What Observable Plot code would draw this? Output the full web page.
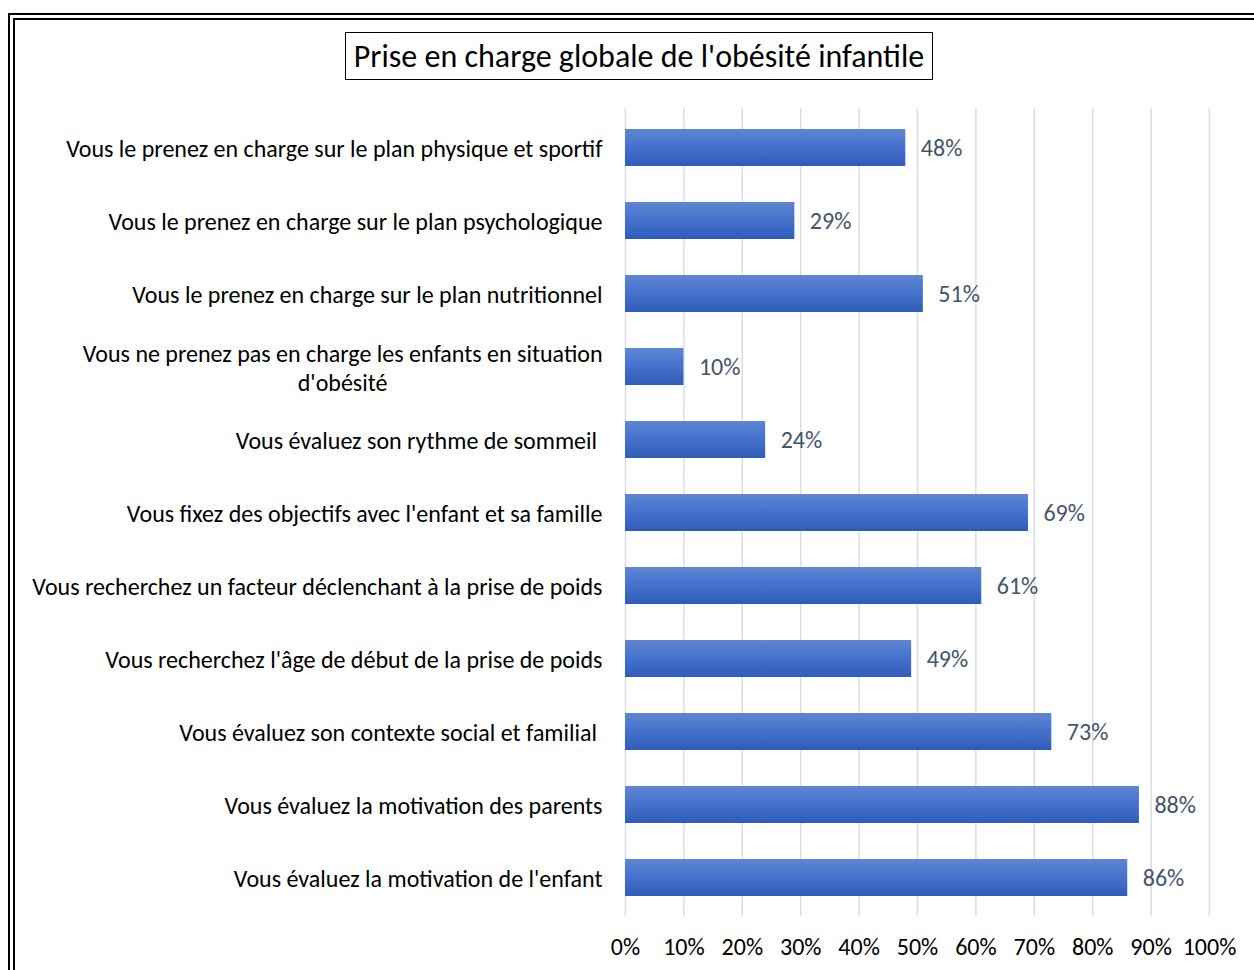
<!DOCTYPE html>
<html>
<head>
<meta charset="utf-8">
<script src="https://cdn.jsdelivr.net/npm/d3@7"></script>
<script src="https://cdn.jsdelivr.net/npm/@observablehq/plot@0.6"></script>
<style>
  html, body { margin: 0; padding: 0; background: #fff; overflow: hidden; width: 1254px; height: 970px; }
  body { position: relative; font-family: Carlito, Lato, "Open Sans", sans-serif; }
  .frame { position: absolute; border: 2px solid #000; width: 3000px; height: 3000px; box-sizing: border-box; }
  #head { position: relative; height: 90px; }
  #title { position: absolute; left: 345px; top: 32px; width: 588px; height: 48px; box-sizing: border-box;
    border: 1.5px solid #000; font-size: 32px; line-height: 48px; text-align: center; color: #000; }
  #chart { position: relative; }
  #chart text { white-space: pre; }
</style>
</head>
<body>
<div class="frame" style="left:8px; top:13px;"></div>
<div class="frame" style="left:13px; top:18px;"></div>
<div id="head"><div id="title">Prise en charge globale de l'obésité infantile</div></div>
<div id="chart"></div>
<script>
const categories = [
  "Vous le prenez en charge sur le plan physique et sportif",
  "Vous le prenez en charge sur le plan psychologique",
  "Vous le prenez en charge sur le plan nutritionnel",
  "Vous ne prenez pas en charge les enfants en situation\nd'obésité",
  "Vous évaluez son rythme de sommeil ",
  "Vous fixez des objectifs avec l'enfant et sa famille",
  "Vous recherchez un facteur déclenchant à la prise de poids",
  "Vous recherchez l'âge de début de la prise de poids",
  "Vous évaluez son contexte social et familial ",
  "Vous évaluez la motivation des parents",
  "Vous évaluez la motivation de l'enfant"
];
const values = [0.48, 0.29, 0.51, 0.10, 0.24, 0.69, 0.61, 0.49, 0.73, 0.88, 0.86];
const xTicks = [0, 0.1, 0.2, 0.3, 0.4, 0.5, 0.6, 0.7, 0.8, 0.9, 1.0];

const data = categories.map((c, i) => ({category: c, value: values[i]}));
const pct = d3.format(".0%");

const plot = Plot.plot({
  width: 1254,
  height: 880,
  marginLeft: 625,
  marginRight: 45,
  marginTop: 18,
  marginBottom: 54,
  style: {fontFamily: "Carlito, Lato, 'Open Sans', sans-serif", fontSize: "24px", color: "#000", background: "transparent"},
  x: {domain: [0, 1], ticks: xTicks, tickFormat: pct},
  y: {domain: categories, paddingInner: 0.5, paddingOuter: 0.25},
  marks: [
    Plot.gridX(xTicks, {stroke: "#D9DDE4", strokeOpacity: 1, strokeWidth: 1.5}),
    Plot.barX(data, {x: "value", y: "category", fill: "url(#barGrad)"}),
    Plot.text(data, {x: "value", y: "category", text: d => pct(d.value), dx: 15, textAnchor: "start", fill: "#44546A", fontSize: 24}),
    Plot.axisX({ticks: xTicks, tickFormat: pct, tickSize: 0, tickPadding: 21, label: null, fontSize: 24}),
    Plot.axisY({tickSize: 0, tickPadding: 23, label: null, fontSize: 24, lineHeight: 1.2})
  ]
});

const ns = "http://www.w3.org/2000/svg";
const defs = document.createElementNS(ns, "defs");
defs.innerHTML = `<linearGradient id="barGrad" x1="0" y1="0" x2="0" y2="1">
  <stop offset="0" stop-color="#5F86D3"/>
  <stop offset="0.5" stop-color="#4471CB"/>
  <stop offset="1" stop-color="#2E5CB8"/>
</linearGradient>`;
plot.insertBefore(defs, plot.firstChild);
document.getElementById("chart").appendChild(plot);

// center the wrapped category label like the original
plot.querySelectorAll("text").forEach(t => {
  if (t.textContent.includes("situation") && t.querySelectorAll("tspan").length > 1) {
    const bb = t.getBBox();
    const cx = bb.x + bb.width / 2;
    t.setAttribute("text-anchor", "middle");
    t.querySelectorAll("tspan").forEach(s => s.setAttribute("x", cx));
  }
});
</script>
</body>
</html>
